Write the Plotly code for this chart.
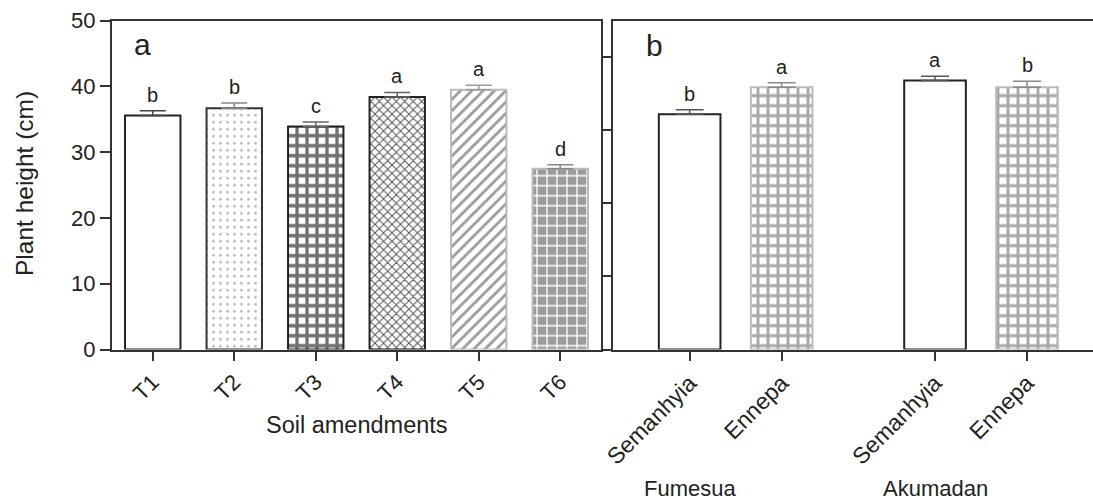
import plotly.graph_objects as go

# ---------------- data ----------------
treatments = ["T1", "T2", "T3", "T4", "T5", "T6"]
height_a = [35.6, 36.7, 33.9, 38.4, 39.5, 27.5]
se_a = [0.7, 0.8, 0.7, 0.7, 0.7, 0.6]
letters_a = ["b", "b", "c", "a", "a", "d"]

varieties = ["Semanhyia", "Ennepa", "Semanhyia", "Ennepa"]
locations = ["Fumesua", "Akumadan"]
height_b = [32.2, 35.9, 36.8, 35.9]
se_b = [0.6, 0.6, 0.6, 0.8]
letters_b = ["b", "a", "a", "b"]

# ---------------- styles ----------------
FONT = "Liberation Sans, Arial, sans-serif"
TXT = "#222222"
AX = "#333333"

styles_a = [
    dict(shape="", fg="#ffffff", bg="#ffffff", size=8, sol=0.3, line="#222222", err="#444444"),
    dict(shape=".", fg="#b0b0b0", bg="#ffffff", size=7, sol=0.12, line="#333333", err="#888888"),
    dict(shape="+", fg="#707070", bg="#ffffff", size=10, sol=0.55, line="#222222", err="#666666"),
    dict(shape="x", fg="#555555", bg="#ffffff", size=6, sol=0.3, line="#222222", err="#666666"),
    dict(shape="/", fg="#9a9a9a", bg="#ffffff", size=8, sol=0.35, line="#bbbbbb", err="#999999"),
    dict(shape="+", fg="#ffffff", bg="#9c9c9c", size=10, sol=0.25, line="#bbbbbb", err="#888888"),
]
styles_b = [
    dict(shape="", fg="#ffffff", bg="#ffffff", size=8, sol=0.3, line="#222222", err="#555555"),
    dict(shape="+", fg="#a8a8a8", bg="#ffffff", size=10, sol=0.5, line="#bbbbbb", err="#888888"),
]

fig = go.Figure()

# panel a bars
for i, t in enumerate(treatments):
    s = styles_a[i]
    fig.add_trace(go.Bar(
        x=[t], y=[height_a[i]], width=0.68,
        xaxis="x", yaxis="y",
        marker=dict(color=s["bg"], line=dict(color=s["line"], width=2),
                    pattern=dict(shape=s["shape"], fgcolor=s["fg"], bgcolor=s["bg"],
                                 size=s["size"], solidity=s["sol"], fillmode="replace")),
        error_y=dict(type="data", symmetric=False, array=[se_a[i]], arrayminus=[0],
                     color=s["err"], thickness=1.5, width=13),
        showlegend=False, hoverinfo="skip",
    ))

# panel b positions (two groups of two)
group_gap = 0.667
pos_b = []
for k in range(len(varieties)):
    g = k // 2
    pos_b.append(k + g * group_gap)

for k in range(len(varieties)):
    s = styles_b[k % 2]
    fig.add_trace(go.Bar(
        x=[pos_b[k]], y=[height_b[k]], width=0.67,
        xaxis="x2", yaxis="y2",
        marker=dict(color=s["bg"], line=dict(color=s["line"], width=2),
                    pattern=dict(shape=s["shape"], fgcolor=s["fg"], bgcolor=s["bg"],
                                 size=s["size"], solidity=s["sol"], fillmode="replace")),
        error_y=dict(type="data", symmetric=False, array=[se_b[k]], arrayminus=[0],
                     color=s["err"], thickness=1.5, width=14),
        showlegend=False, hoverinfo="skip",
    ))

annotations = []
for i, t in enumerate(treatments):
    annotations.append(dict(x=t, y=height_a[i] + se_a[i], xref="x", yref="y",
                            text=letters_a[i], showarrow=False, yanchor="bottom", yshift=3,
                            font=dict(size=20, color=TXT, family=FONT)))
for k in range(len(varieties)):
    annotations.append(dict(x=pos_b[k], y=height_b[k] + se_b[k], xref="x2", yref="y2",
                            text=letters_b[k], showarrow=False, yanchor="bottom", yshift=3,
                            font=dict(size=20, color=TXT, family=FONT)))

# panel labels
annotations.append(dict(x=142 / 1093, y=(502 - 44) / 502, xref="paper", yref="paper",
                        text="a", showarrow=False, xanchor="center", yanchor="middle",
                        font=dict(size=30, color=TXT, family=FONT)))
annotations.append(dict(x=654 / 1093, y=(502 - 45) / 502, xref="paper", yref="paper",
                        text="b", showarrow=False, xanchor="center", yanchor="middle",
                        font=dict(size=30, color=TXT, family=FONT)))
# axis titles
annotations.append(dict(x=24 / 1093, y=(502 - 184) / 502, xref="paper", yref="paper",
                        text="Plant height (cm)", showarrow=False, textangle=-90,
                        xanchor="center", yanchor="middle",
                        font=dict(size=24.5, color=TXT, family=FONT)))
annotations.append(dict(x=357 / 1093, y=(502 - 425) / 502, xref="paper", yref="paper",
                        text="Soil amendments", showarrow=False,
                        xanchor="center", yanchor="middle",
                        font=dict(size=23.5, color=TXT, family=FONT)))
for g, loc in enumerate(locations):
    annotations.append(dict(x=pos_b[2 * g], y=(502 - 488) / 502, xref="x2", yref="paper",
                            text=loc, showarrow=False, xanchor="center", yanchor="middle",
                            font=dict(size=22, color=TXT, family=FONT)))

ydom = [(502 - 349.5) / 502, (502 - 20.7) / 502]
line_axis = dict(showline=True, linecolor=AX, linewidth=2, ticks="outside",
                 tickcolor=AX, tickwidth=2, showgrid=False, zeroline=False,
                 automargin=False)
tickfont = dict(size=22, color=TXT, family=FONT)

fig.update_layout(
    template="none",
    width=1093, height=502,
    autosize=False,
    margin=dict(l=0, r=0, t=0, b=0, pad=0, autoexpand=False),
    paper_bgcolor="white", plot_bgcolor="white",
    barmode="overlay",
    showlegend=False,
    font=dict(family=FONT, color=TXT),
    xaxis=dict(domain=[112 / 1093, 601 / 1093], range=[-0.5, 5.5], anchor="y",
               type="category", categoryorder="array", categoryarray=treatments,
               mirror=True, ticklen=9, tickangle=-45, tickfont=tickfont, **line_axis),
    yaxis=dict(domain=ydom, range=[0, 50], anchor="x", tickvals=[0, 10, 20, 30, 40, 50],
               mirror=True, ticklen=10, tickfont=dict(size=22, color=TXT, family=FONT),
               **line_axis),
    xaxis2=dict(domain=[613 / 1093, 1.0], range=[-0.833, 4.384], anchor="y2",
                tickvals=pos_b, ticktext=varieties, mirror=True, ticklen=9, tickangle=-45,
                tickfont=dict(size=23, color=TXT, family=FONT), **line_axis),
    yaxis2=dict(domain=ydom, range=[0, 45], anchor="x2", tickvals=[0, 10, 20, 30, 40],
                showticklabels=False, ticklen=10, **line_axis),
    annotations=annotations,
)

fig.write_html("out.html", config={"displayModeBar": False, "staticPlot": True},
               post_script="document.body.style.margin='0';document.body.style.overflow='hidden';")
